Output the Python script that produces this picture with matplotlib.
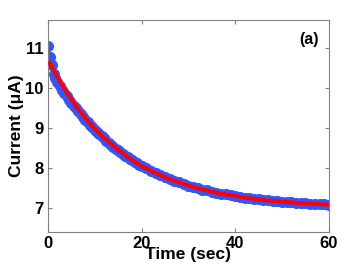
import numpy as np
import matplotlib.pyplot as plt

plt.rcParams['font.family'] = ['Liberation Sans', 'DejaVu Sans']
plt.rcParams['font.weight'] = 'bold'

# 測定データ (青丸)
t_meas = [0, 0.4, 0.8, 1.2, 1.6, 2.0, 2.5, 3, 3.5, 4, 4.5, 5, 5.5, 6,
          6.5, 7, 7.5, 8, 8.5, 9, 9.5, 10, 10.5, 11, 11.5, 12, 12.5, 13,
          13.5, 14, 14.5, 15, 15.5, 16, 16.5, 17, 17.5, 18, 18.5, 19,
          19.5, 20, 21, 22, 23, 24, 25, 26, 27, 28, 29, 30, 31, 32, 33,
          34, 35, 36, 37, 38, 39, 40, 41, 42, 43, 44, 45, 46, 47, 48, 49,
          50, 51, 52, 53, 54, 55, 56, 57, 58, 59, 60]
i_meas = [11.05, 10.78, 10.58, 10.36, 10.25, 10.16, 10.06, 9.96, 9.87, 9.79,
          9.71, 9.63, 9.56, 9.49, 9.42, 9.35, 9.28, 9.21, 9.145, 9.08, 9.02,
          8.96, 8.905, 8.85, 8.795, 8.74, 8.685, 8.63, 8.58, 8.53, 8.485,
          8.44, 8.395, 8.35, 8.31, 8.27, 8.23, 8.19, 8.155, 8.12, 8.085,
          8.05, 7.99, 7.93, 7.87, 7.82, 7.77, 7.72, 7.68, 7.64, 7.60, 7.56,
          7.52, 7.49, 7.46, 7.44, 7.41, 7.38, 7.36, 7.34, 7.32, 7.30, 7.28,
          7.26, 7.245, 7.23, 7.215, 7.20, 7.19, 7.18, 7.17, 7.16, 7.15, 7.14,
          7.13, 7.12, 7.115, 7.11, 7.10, 7.10, 7.09, 7.08]

# フィット曲線 (赤線)
t_fit = [0.4, 2, 4, 6, 8, 10, 12, 14, 16, 18, 20, 22, 24, 26, 28, 30,
         32, 34, 36, 38, 40, 42, 44, 46, 48, 50, 52, 54, 56, 58, 60]
i_fit = [10.62, 10.27, 9.89, 9.54, 9.24, 8.98, 8.75, 8.55, 8.36, 8.19,
         8.05, 7.93, 7.82, 7.72, 7.64, 7.56, 7.49, 7.44, 7.38, 7.34, 7.30,
         7.26, 7.23, 7.20, 7.18, 7.16, 7.14, 7.12, 7.11, 7.10, 7.08]

fig = plt.figure(figsize=(3.63, 2.73), dpi=100)
ax = fig.add_axes([0.132, 0.150, 0.774, 0.777])

ax.plot(t_meas, i_meas, 'o', color='#3355ff', markersize=8,
        markeredgewidth=0, zorder=2)
ax.plot(t_fit, i_fit, '-', color='red', lw=2.9, zorder=3)

ax.set_xlim(0, 60)
ax.set_ylim(6.4, 11.7)
ax.set_xticks([0, 20, 40, 60])
ax.set_yticks([7, 8, 9, 10, 11])

for s in ax.spines.values():
    s.set_color('#808080')
    s.set_linewidth(0.8)
ax.tick_params(direction='in', length=3, width=0.8, color='#808080',
               top=True, right=True, labelsize=12, pad=3)
for lab in ax.get_xticklabels() + ax.get_yticklabels():
    lab.set_fontweight('bold')

ax.set_xlabel('Time (sec)', fontsize=12.5, fontweight='bold', labelpad=-3)
ax.set_ylabel('Current (\u03bcA)', fontsize=12.5, fontweight='bold', labelpad=1)
ax.text(0.964, 0.906, '(a)', transform=ax.transAxes, ha='right', va='center',
        fontsize=11.5, fontweight='bold')

plt.savefig('out.png', dpi=100)
plt.close()
